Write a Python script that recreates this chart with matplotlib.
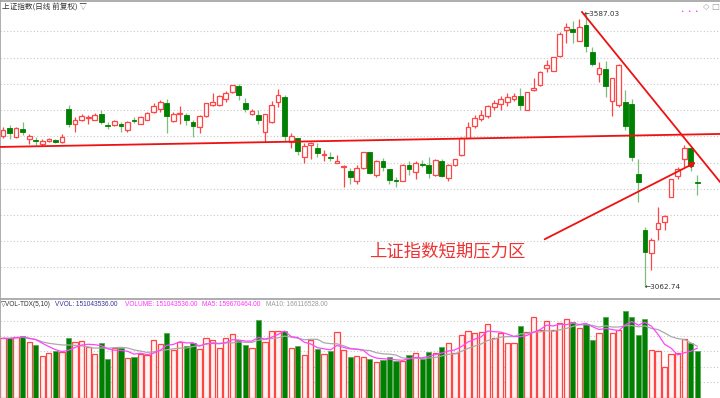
import matplotlib
matplotlib.use('Agg')
import matplotlib.pyplot as plt
import numpy as np
import pandas as pd

plt.rcParams['font.family'] = ['Noto Sans CJK SC', 'DejaVu Sans']

# daily OHLC of the index
opens = [3351, 3365, 3349, 3364, 3345, 3343, 3335, 3341, 3343, 3340,
         3402, 3373, 3381, 3384, 3382, 3392, 3372, 3372, 3374, 3362,
         3382, 3374, 3382, 3396, 3402, 3413, 3379, 3393, 3391, 3378,
         3367, 3388, 3409, 3409, 3421, 3434, 3446, 3414, 3393, 3391,
         3359, 3378, 3415, 3424, 3340, 3346, 3310, 3334, 3328, 3314,
         3311, 3300, 3291, 3283, 3264, 3289, 3320, 3276, 3302, 3287,
         3267, 3265, 3295, 3281, 3297, 3295, 3276, 3302, 3270, 3295,
         3314, 3347, 3370, 3383, 3389, 3405, 3412, 3415, 3421, 3427,
         3401, 3438, 3448, 3480, 3475, 3503, 3552, 3554, 3532, 3562,
         3511, 3469, 3478, 3418, 3410, 3416, 3411, 3279, 3171, 3127,
         3174, 3187, 3235, 3274, 3306, 3328, 3263]
highs = [3368, 3372, 3368, 3377, 3354, 3349, 3345, 3347, 3344, 3354,
         3410, 3386, 3393, 3391, 3394, 3400, 3378, 3381, 3378, 3379,
         3386, 3388, 3397, 3413, 3419, 3421, 3396, 3408, 3395, 3381,
         3391, 3413, 3432, 3428, 3437, 3448, 3449, 3423, 3402, 3400,
         3392, 3417, 3440, 3429, 3356, 3346, 3337, 3340, 3338, 3324,
         3321, 3314, 3295, 3289, 3295, 3321, 3320, 3305, 3308, 3287,
         3272, 3297, 3302, 3302, 3305, 3311, 3306, 3307, 3297, 3306,
         3348, 3378, 3391, 3400, 3410, 3419, 3426, 3432, 3432, 3442,
         3435, 3462, 3475, 3496, 3502, 3548, 3567, 3570, 3573, 3587.03,
         3521, 3492, 3494, 3462, 3487, 3438, 3422, 3306, 3178, 3157,
         3216, 3200, 3268, 3292, 3333, 3328, 3276]
lows = [3347, 3344, 3346, 3352, 3335, 3333, 3332, 3340, 3337, 3338,
        3367, 3359, 3379, 3373, 3381, 3374, 3364, 3370, 3359, 3359,
        3375, 3373, 3381, 3394, 3397, 3357, 3378, 3374, 3372, 3348,
        3357, 3386, 3407, 3408, 3416, 3433, 3419, 3397, 3391, 3373,
        3340, 3376, 3405, 3341, 3328, 3314, 3300, 3306, 3311, 3303,
        3303, 3300, 3254, 3260, 3259, 3287, 3278, 3273, 3283, 3259,
        3254, 3264, 3276, 3268, 3292, 3270, 3275, 3273, 3264, 3293,
        3313, 3346, 3365, 3380, 3384, 3401, 3400, 3407, 3417, 3401,
        3400, 3437, 3446, 3473, 3475, 3502, 3527, 3527, 3531, 3510,
        3484, 3454, 3424, 3389, 3406, 3362, 3303, 3225, 3062.74, 3095,
        3153, 3171, 3234, 3268, 3291, 3284, 3239]
closes = [3362, 3356, 3365, 3358, 3350, 3341, 3342, 3345, 3340, 3349,
          3374, 3382, 3388, 3386, 3390, 3378, 3370, 3380, 3370, 3378,
          3380, 3386, 3395, 3407, 3415, 3389, 3392, 3395, 3382, 3370,
          3388, 3413, 3415, 3426, 3432, 3447, 3429, 3402, 3398, 3382,
          3392, 3410, 3429, 3351, 3351, 3322, 3332, 3337, 3318, 3316,
          3309, 3303, 3293, 3272, 3289, 3321, 3280, 3302, 3292, 3267,
          3265, 3295, 3287, 3299, 3296, 3280, 3305, 3275, 3295, 3306,
          3346, 3368, 3384, 3391, 3408, 3413, 3421, 3424, 3427, 3410,
          3435, 3443, 3473, 3486, 3501, 3546, 3559, 3548, 3558, 3522,
          3488, 3480, 3446, 3461, 3486, 3370, 3310, 3262, 3129, 3153,
          3184, 3198, 3268, 3287, 3328, 3293, 3261]

# volume in millions of shares
volume = [192, 192, 198, 200, 179, 170, 134, 143, 151, 147,
          192, 179, 182, 164, 140, 177, 126, 160, 161, 127,
          130, 141, 137, 186, 173, 210, 155, 181, 167, 176,
          156, 192, 187, 161, 192, 206, 187, 170, 160, 252,
          179, 217, 216, 215, 160, 167, 139, 187, 157, 140,
          150, 212, 154, 133, 135, 133, 125, 114, 122, 130,
          120, 118, 138, 143, 124, 148, 143, 163, 176, 143,
          203, 216, 208, 214, 238, 192, 210, 176, 176, 233,
          212, 262, 219, 249, 219, 241, 255, 244, 225, 239,
          187, 208, 262, 208, 219, 282, 262, 203, 256, 154,
          152, 100, 140, 145, 189, 176, 151.04]

# hand-drawn lines: (index, price) end points
flat_line = [(-0.46, 3329.7), (109.47, 3354.5)]
down_line = [(88.4, 3587.0), (109.47, 3263.0)]
up_arrow = [(82.7, 3153.7), (105.8, 3300.5)]
label_pos = (55.9, 3131)
grid_prices = [3100, 3150, 3200, 3250, 3300, 3350, 3400, 3450, 3500, 3550]
grid_vols = [50, 100, 150, 200, 250]

RED = '#ff4545'
GREEN = '#008000'
GREEN_WICK = '#7cbf7c'
SMALL = ['Liberation Sans', 'DejaVu Sans']

o = np.array(opens)
h = np.array(highs)
l = np.array(lows)
c = np.array(closes)
x = np.arange(len(o))
up = c >= o

fig = plt.figure(figsize=(7.2, 3.98), dpi=100)
ax = fig.add_axes([0, 101 / 398, 1, 296 / 398])
axv = fig.add_axes([0, 0, 1, 99 / 398])

for a in (ax, axv):
    a.set_xlim(-0.46, 109.47)
    a.set_xticks([])
    a.set_yticks([])
    for s in ('right', 'bottom'):
        a.spines[s].set_visible(False)
    for s in ('top', 'left'):
        a.spines[s].set_color('#a0a0a0')
        a.spines[s].set_linewidth(1.2)

ax.set_ylim(3043.6, 3608)
for p in grid_prices:
    ax.axhline(p, color='#c8c8c8', lw=0.8, ls=(0, (1, 2)), zorder=0)

# wicks
ax.vlines(x[up], l[up], h[up], color=RED, lw=0.9, zorder=2)
ax.vlines(x[~up], l[~up], h[~up], color=GREEN_WICK, lw=0.9, zorder=2)
# bodies
body_bot = np.minimum(o, c)
body_h = np.maximum(np.abs(c - o), 1.2)
ax.bar(x[up], body_h[up], bottom=body_bot[up], width=0.72,
       facecolor='white', edgecolor=RED, lw=0.9, zorder=3)
ax.bar(x[~up], body_h[~up], bottom=body_bot[~up], width=0.72,
       facecolor=GREEN, edgecolor=GREEN, lw=0.6, zorder=3)

# trend lines
ax.plot(*zip(*flat_line), color='#ee1111', lw=1.3, zorder=4)
ax.plot(*zip(*down_line), color='#ee1111', lw=1.3, zorder=4)
ax.annotate('', xy=up_arrow[1], xytext=up_arrow[0],
            arrowprops=dict(arrowstyle='-|>', color='#ee1111', lw=1.3,
                            mutation_scale=8, shrinkA=0, shrinkB=0), zorder=4)
ax.text(label_pos[0], label_pos[1], '上证指数短期压力区', color='#ee3333',
        fontsize=12.5, fontweight='light', ha='left', va='center')

# high / low marks
ax.text(88.6, 3583, '←3587.03', fontsize=5.2, color='#333333',
        family=['DejaVu Sans'], ha='left', va='center')
ax.text(98.0, 3062.74, '←3062.74', fontsize=5.2, color='#333333',
        family=['DejaVu Sans'], ha='left', va='center')

ax.text(0.003, 0.982, '上证指数(日线 前复权) ▽', transform=ax.transAxes,
        fontsize=5.5, color='#333333', ha='left', va='center')
ax.text(0.981, 0.982, '◇', transform=ax.transAxes, fontsize=6,
        color='#999999', ha='center', va='center', family=['DejaVu Sans'])
ax.text(0.993, 0.982, '□', transform=ax.transAxes, fontsize=6,
        color='#999999', ha='center', va='center', family=['DejaVu Sans'])
for fx in (0.947, 0.957, 0.967):
    ax.text(fx, 0.963, '•', transform=ax.transAxes, fontsize=4,
            color='#ff33ff', ha='center', va='center', family=['DejaVu Sans'])

# volume panel
vol = np.array(volume)
axv.set_ylim(-1.6, 319.8)
for g in grid_vols:
    axv.axhline(g, color='#c8c8c8', lw=0.8, ls=(0, (1, 2)), zorder=0)
axv.bar(x[up], vol[up], width=0.8, facecolor='#fff2f2', edgecolor=RED,
        lw=0.9, zorder=2)
axv.bar(x[~up], vol[~up], width=0.8, facecolor=GREEN, edgecolor='#5aa85a',
        lw=0.6, zorder=2)
s = pd.Series(vol)
axv.plot(x, s.rolling(10, min_periods=1).mean(), color='#aaaaaa', lw=0.9, zorder=3)
axv.plot(x, s.rolling(5, min_periods=1).mean(), color='#ff44ff', lw=0.9, zorder=3)

hdr_y = 0.94
parts = [(0.002, '▽VOL-TDX(5,10)', '#333333'),
         (0.076, 'VVOL: 151043536.00', '#333399'),
         (0.174, 'VOLUME: 151043536.00', '#ff33ff'),
         (0.280, 'MA5: 159670464.00', '#ff33ff'),
         (0.369, 'MA10: 166116528.00', '#999999')]
for fx, t, col in parts:
    axv.text(fx, hdr_y, t, transform=axv.transAxes, fontsize=4.7, color=col,
             family=SMALL, ha='left', va='center')

fig.savefig('out.png', dpi=100)
